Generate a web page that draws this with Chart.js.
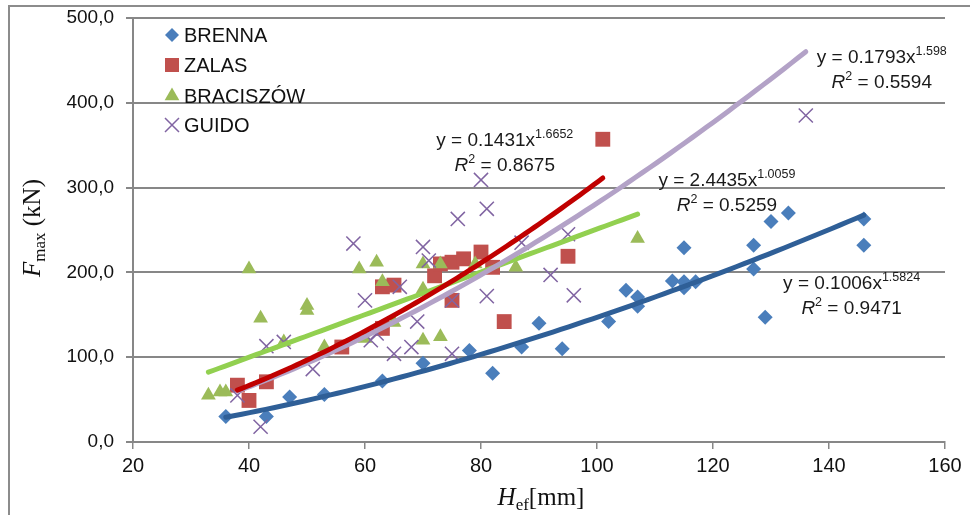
<!DOCTYPE html>
<html><head><meta charset="utf-8">
<script src="https://cdn.jsdelivr.net/npm/chart.js@4.4.1/dist/chart.umd.min.js"></script>
<style>html,body{margin:0;padding:0;background:#fff;}canvas{display:block;}</style>
</head><body>
<canvas id="c" width="970" height="515"></canvas>
<script>
// ---- data ----
const seriesNames = ['BRENNA', 'ZALAS', 'BRACISZÓW', 'GUIDO'];

const brennaX = [36, 43, 47, 53, 63, 70, 78, 82, 87, 90, 94, 102, 105, 107, 107, 113, 115, 115, 115, 117, 127, 127, 129, 130, 133, 146, 146];
const brennaY = [30, 30, 53, 56, 72, 93, 108, 81, 112, 140, 110, 142, 179, 171, 160, 190, 189, 182, 229, 189, 232, 204, 147, 260, 270, 263, 232];

const zalasX = [38, 40, 43, 56, 63, 63, 65, 72, 73, 75, 77, 80, 82, 75, 84, 95, 101];
const zalasY = [67, 49, 71, 112, 134, 183, 185, 196, 210, 212, 216, 224, 206, 167, 142, 219, 357];

const bracX = [33, 35, 36, 40, 42, 46, 50, 50, 53, 59, 60, 62, 63, 65, 70, 70, 70, 73, 73, 79, 86, 107];
const bracY = [55, 59, 59, 204, 146, 118, 161, 155, 112, 204, 122, 212, 189, 141, 210, 180, 120, 210, 124, 210, 206, 240];

const guidoX = [38, 42, 43, 46, 51, 58, 60, 61, 62, 65, 66, 68, 69, 70, 71, 75, 75, 76, 80, 81, 81, 87, 92, 95, 96, 136];
const guidoY = [55, 18, 113, 118, 86, 234, 167, 120, 128, 104, 183, 112, 142, 230, 214, 104, 167, 263, 309, 275, 172, 235, 197, 245, 173, 385];

// power trendlines y = a * x^b (coefficients as printed on the chart)
const trendA = [0.1006, 0.1431, 2.4435, 0.1793];
const trendB = [1.5824, 1.6652, 1.0059, 1.598];
const trendALabel = ['0.1006', '0.1431', '2.4435', '0.1793'];
const trendBLabel = ['1.5824', '1.6652', '1.0059', '1.598'];
const trendR2Label = ['0.9471', '0.8675', '0.5259', '0.5594'];

const xTicks = [20, 40, 60, 80, 100, 120, 140, 160];
const yTicks = [0, 100, 200, 300, 400, 500];

// ---- styling ----
const markerColors = ['#4A7EBB', '#C0504D', '#9BBB59', '#8064A2'];
const trendColors = ['#2F5F97', '#C00000', '#92D050', '#B3A2C7'];
const pointStyles = ['rectRot', 'rect', 'triangle', 'crossRot'];
const pointRadii = [7.5, 10.5, 8.5, 10];

const xs = [brennaX, zalasX, bracX, guidoX];
const ys = [brennaY, zalasY, bracY, guidoY];

const datasets = [];
// trendlines (drawn on top): lower order = drawn later
const trendOrder = [3, 0, 2, 1];
for (let s = 0; s < 4; s++) {
  const xmin = Math.min(...xs[s]), xmax = Math.max(...xs[s]);
  const pts = [];
  const N = 80;
  for (let i = 0; i <= N; i++) {
    const x = xmin + (xmax - xmin) * i / N;
    pts.push({x: x, y: trendA[s] * Math.pow(x, trendB[s])});
  }
  datasets.push({
    label: seriesNames[s] + ' trend', type: 'line', data: pts,
    borderColor: trendColors[s], borderWidth: 5, pointRadius: 0,
    fill: false, tension: 0, order: trendOrder[s], borderCapStyle: 'round'
  });
}
for (let s = 0; s < 4; s++) {
  const isCross = pointStyles[s] === 'crossRot';
  datasets.push({
    label: seriesNames[s], type: 'scatter',
    data: xs[s].map((x, i) => ({x: x, y: ys[s][i]})),
    pointStyle: pointStyles[s], pointRadius: pointRadii[s], pointHoverRadius: pointRadii[s],
    backgroundColor: markerColors[s],
    borderColor: markerColors[s],
    borderWidth: isCross ? 1.5 : 0,
    order: 20 - s
  });
}

function drawMarker(ctx, style, x, y, color) {
  ctx.save();
  ctx.fillStyle = color; ctx.strokeStyle = color;
  ctx.beginPath();
  if (style === 'rectRot') {
    const r = 7; ctx.moveTo(x, y - r); ctx.lineTo(x + r, y); ctx.lineTo(x, y + r); ctx.lineTo(x - r, y); ctx.closePath(); ctx.fill();
  } else if (style === 'rect') {
    ctx.rect(x - 7, y - 7, 14, 14); ctx.fill();
  } else if (style === 'triangle') {
    const r = 8.5; ctx.moveTo(x, y - r); ctx.lineTo(x + r * 0.866, y + r * 0.5); ctx.lineTo(x - r * 0.866, y + r * 0.5); ctx.closePath(); ctx.fill();
  } else {
    const h = 7; ctx.lineWidth = 1.5;
    ctx.moveTo(x - h, y - h); ctx.lineTo(x + h, y + h); ctx.moveTo(x + h, y - h); ctx.lineTo(x - h, y + h); ctx.stroke();
  }
  ctx.restore();
}

function drawParts(ctx, cx, cy, parts) {
  let w = 0;
  parts.forEach(p => { ctx.font = p.font; p.w = ctx.measureText(p.t).width; w += p.w; });
  let x = cx - w / 2;
  parts.forEach(p => { ctx.font = p.font; ctx.fillText(p.t, x, cy + (p.dy || 0)); x += p.w; });
}

const decor = {
  id: 'decor',
  afterDraw(chart, args, opts) {
    const ctx = chart.ctx;
    const xS = chart.scales.x, yS = chart.scales.y;
    ctx.save();
    // outer frame
    ctx.strokeStyle = '#8C8C8C'; ctx.lineWidth = 2;
    ctx.beginPath(); ctx.moveTo(9, 520); ctx.lineTo(9, 6); ctx.lineTo(975, 6); ctx.stroke();

    // legend
    ctx.textBaseline = 'middle'; ctx.textAlign = 'left';
    const ly = [35, 65, 96, 125];
    for (let s = 0; s < 4; s++) {
      drawMarker(ctx, pointStyles[s], 172, ly[s], markerColors[s]);
      ctx.fillStyle = '#111';
      ctx.font = '20px "Liberation Sans", Arial, sans-serif';
      ctx.fillText(seriesNames[s], 184, ly[s] + 1);
    }

    // equations
    ctx.fillStyle = '#1a1a1a'; ctx.textBaseline = 'middle'; ctx.textAlign = 'left';
    const base = '19px "Liberation Sans", Arial, sans-serif';
    const sup = '12.5px "Liberation Sans", Arial, sans-serif';
    const ital = 'italic 19px "Liberation Sans", Arial, sans-serif';
    opts.anchors.forEach((a, s) => {
      const cx = xS.getPixelForValue(a[0]);
      const cy = yS.getPixelForValue(a[1]);
      drawParts(ctx, cx, cy, [
        {t: 'y = ' + trendALabel[s] + 'x', font: base},
        {t: trendBLabel[s], font: sup, dy: -6}
      ]);
      drawParts(ctx, cx, cy + 25, [
        {t: 'R', font: ital},
        {t: '2', font: sup, dy: -6},
        {t: ' = ' + trendR2Label[s], font: base}
      ]);
    });

    // axis titles
    ctx.fillStyle = '#111';
    ctx.textBaseline = 'alphabetic';
    const serif = '"Liberation Serif", "Times New Roman", serif';
    drawParts(ctx, 541, 505, [
      {t: 'H', font: 'italic 25px ' + serif},
      {t: 'ef', font: '17px ' + serif, dy: 5},
      {t: '[mm]', font: '25px ' + serif}
    ]);
    ctx.save();
    ctx.translate(40, 228);
    ctx.rotate(-Math.PI / 2);
    drawParts(ctx, 0, 0, [
      {t: 'F', font: 'italic 25px ' + serif},
      {t: 'max', font: '17px ' + serif, dy: 5},
      {t: ' (kN)', font: '25px ' + serif}
    ]);
    ctx.restore();
    ctx.restore();
  }
};

const gridColor = '#878787';
new Chart(document.getElementById('c'), {
  data: {datasets: datasets},
  options: {
    responsive: false, animation: false, devicePixelRatio: 1,
    layout: {padding: {top: 18, right: 25, left: 0, bottom: 0}},
    plugins: {
      legend: {display: false}, tooltip: {enabled: false},
      decor: {anchors: [[143.9, 187], [84.1, 355], [122.4, 308], [149.1, 453]]}
    },
    scales: {
      x: {
        type: 'linear', min: 20, max: 160,
        afterBuildTicks: s => { s.ticks = xTicks.map(v => ({value: v})); },
        afterFit: s => { s.height = 73; s.paddingLeft = 0; s.paddingRight = 0; },
        grid: {drawOnChartArea: false, drawTicks: true, tickLength: 7, color: gridColor, lineWidth: 1.5},
        border: {display: true, color: gridColor, width: 2},
        ticks: {color: '#111', padding: 5, font: {family: '"Liberation Sans", Arial, sans-serif', size: 20}, maxRotation: 0}
      },
      y: {
        type: 'linear', min: 0, max: 500,
        afterBuildTicks: s => { s.ticks = yTicks.map(v => ({value: v})); },
        afterFit: s => { s.width = 133; s.paddingTop = 0; s.paddingBottom = 0; },
        grid: {drawOnChartArea: true, drawTicks: true, tickLength: 7, color: gridColor, lineWidth: 2},
        border: {display: true, color: gridColor, width: 2},
        ticks: {color: '#111', padding: 12, font: {family: '"Liberation Sans", Arial, sans-serif', size: 19},
          callback: v => v.toFixed(1).replace('.', ',')}
      }
    }
  },
  plugins: [decor]
});
</script>
</body></html>
